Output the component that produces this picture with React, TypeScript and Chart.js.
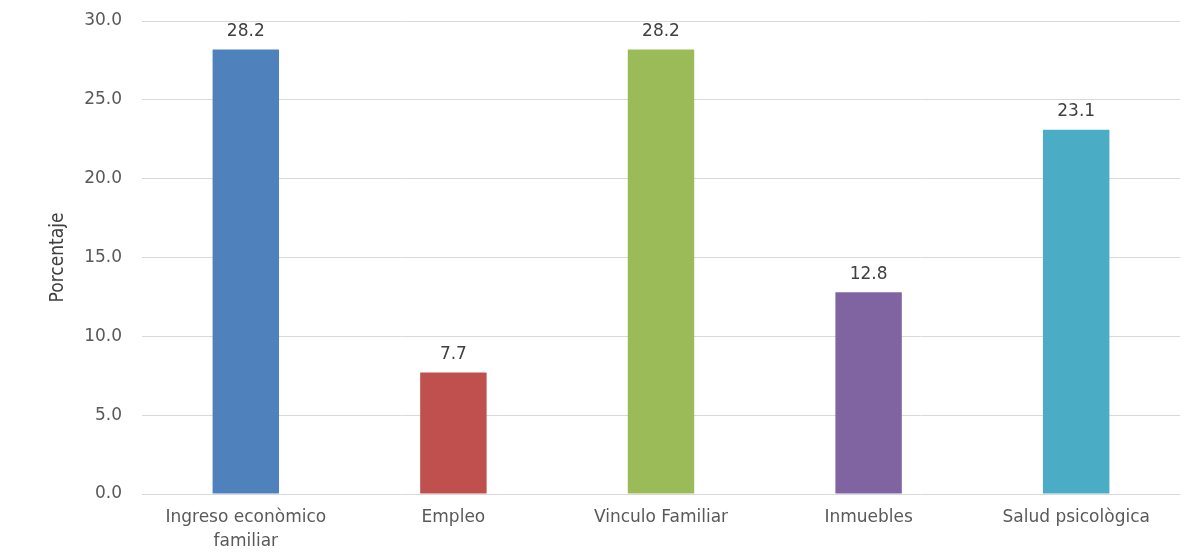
import React, { useEffect, useRef } from "react";
import { Chart, registerables } from "chart.js";

Chart.register(...registerables);

const categories: (string | string[])[] = [
  ["Ingreso econòmico", "familiar"],
  "Empleo",
  "Vinculo Familiar",
  "Inmuebles",
  "Salud psicològica",
];
const values = [28.2, 7.7, 28.2, 12.8, 23.1];
const barColors = ["#4F81BD", "#C0504D", "#9BBB59", "#8064A2", "#4BACC6"];
const yTitle = "Porcentaje";

const FONT = "'DejaVu Sans'";

const valueLabels = {
  id: "valueLabels",
  afterDatasetsDraw(chart: any) {
    const ctx = chart.ctx;
    const meta = chart.getDatasetMeta(0);
    ctx.save();
    ctx.font = "17px 'DejaVu Sans'";
    ctx.fillStyle = "#404040";
    ctx.textAlign = "center";
    ctx.textBaseline = "middle";
    meta.data.forEach((bar: any, i: number) => {
      ctx.fillText(values[i].toFixed(1), bar.x, bar.y - 18);
    });
    ctx.restore();
  },
};

export default function App() {
  const ref = useRef<HTMLCanvasElement>(null);
  useEffect(() => {
    document.body.style.margin = "0";
    const chart = new Chart(ref.current!, {
      type: "bar",
      data: {
        labels: categories,
        datasets: [
          {
            data: values,
            backgroundColor: barColors,
            categoryPercentage: 1,
            barPercentage: 0.32,
          },
        ],
      },
      options: {
        animation: false,
        responsive: false,
        layout: { padding: { left: 0, right: 19, top: 21, bottom: 0 } },
        plugins: { legend: { display: false }, tooltip: { enabled: false } },
        scales: {
          x: {
            grid: { display: false },
            border: { display: false },
            ticks: {
              color: "#595959",
              font: { family: FONT, size: 17, lineHeight: 1.4 },
              padding: 4,
              maxRotation: 0,
              autoSkip: false,
            },
            afterFit: (s: any) => {
              s.height = 62;
              s.paddingLeft = 0;
              s.paddingRight = 0;
            },
          },
          y: {
            min: 0,
            max: 30,
            grid: { color: "#d9d9d9", lineWidth: 1, drawTicks: false },
            border: { display: false },
            ticks: {
              stepSize: 5,
              color: "#595959",
              font: { family: FONT, size: 17 },
              padding: 20,
              callback: (v: any) => Number(v).toFixed(1),
            },
            title: {
              display: true,
              text: yTitle,
              color: "#404040",
              font: { family: "'Liberation Sans Narrow', 'DejaVu Sans Condensed'", size: 19 },
              padding: { top: 47, bottom: 0 },
            },
            afterFit: (s: any) => {
              s.width = 142;
              s.paddingTop = 0;
              s.paddingBottom = 0;
            },
          },
        },
      },
      plugins: [valueLabels],
    });
    return () => chart.destroy();
  }, []);
  return (
    <div style={{ width: 1199, height: 556, background: "#fff" }}>
      <canvas ref={ref} width={1199} height={556} />
    </div>
  );
}
